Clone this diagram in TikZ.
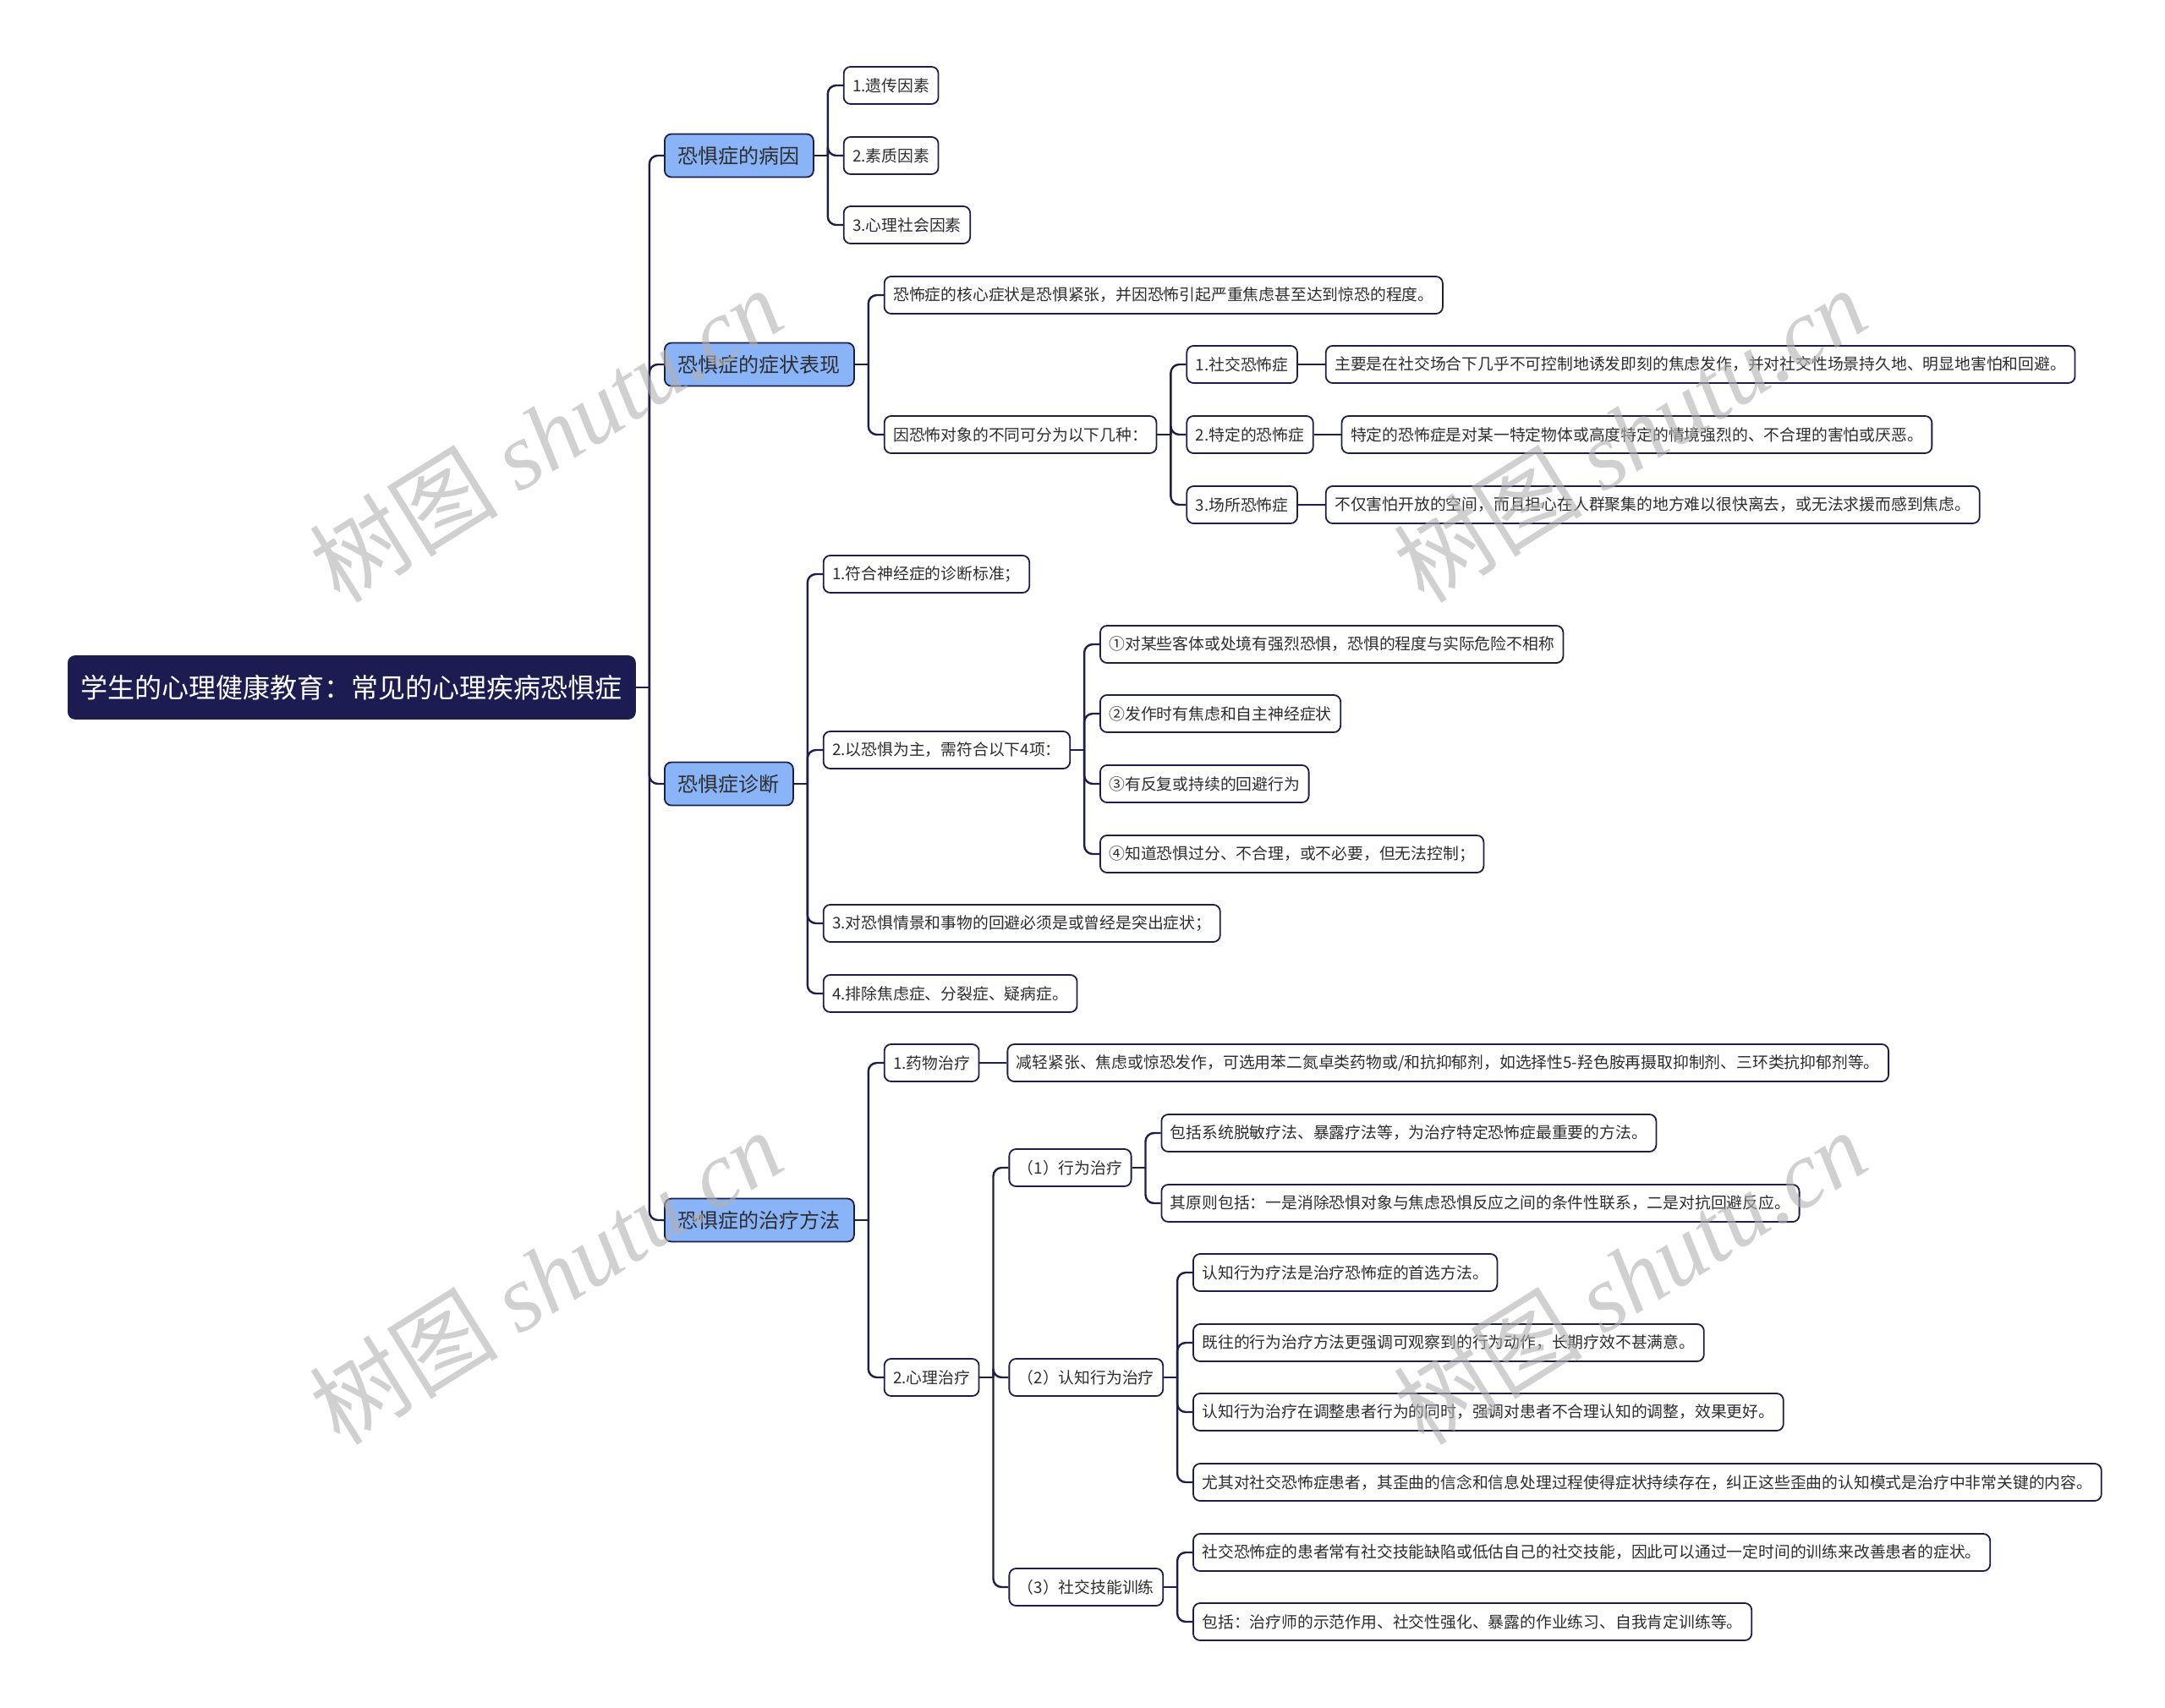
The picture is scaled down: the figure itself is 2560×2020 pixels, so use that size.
\documentclass[tikz,border=0pt]{standalone}
\usepackage{fontspec}
\setmainfont{Noto Sans CJK SC}
\newfontfamily\wmfont{Liberation Serif}
\usetikzlibrary{positioning,calc}
\definecolor{rootnavy}{RGB}{28,27,82}
\definecolor{topicblue}{RGB}{138,180,248}
\definecolor{linknavy}{RGB}{30,30,72}
\definecolor{inkgray}{RGB}{45,45,45}

\tikzset{
  box/.style={draw=linknavy, line width=1.8pt, rounded corners=8pt, anchor=west, inner ysep=0pt, text=inkgray},
  rootbox/.style={box, fill=rootnavy, text=white, font=\fontsize{32}{38}\selectfont, minimum height=74pt, inner xsep=15pt},
  topic/.style={box, fill=topicblue, font=\fontsize{24}{29}\selectfont, minimum height=51pt, inner xsep=16pt},
  leaf/.style={box, fill=white, font=\fontsize{18.8}{23}\selectfont, minimum height=44pt, inner xsep=10.5pt},
  link/.style={draw=linknavy, line width=2.4pt, rounded corners=10pt},
  wmtext/.style={text=gray!60, text opacity=0.6, font=\fontsize{112}{130}\selectfont, rotate=32}
}

\begin{document}
\begin{tikzpicture}[x=1pt, y=-1pt]

\fill[white] (0,0) rectangle (2560,2020);
\useasboundingbox (0,0) rectangle (2560,2020);

% Root and main topics
\node[rootbox] (root) at (80,813) {学生的心理健康教育：常见的心理疾病恐惧症};
\node[topic] (cause) at (785,184) {恐惧症的病因};
\node[topic] (sympt) at (785,431) {恐惧症的症状表现};
\node[topic] (diag) at (785,927) {恐惧症诊断};
\node[topic] (treat) at (785,1443) {恐惧症的治疗方法};

% Causes
\node[leaf, right=34pt of cause, yshift=83pt] (cause1) {1.遗传因素};
\node[leaf, right=34pt of cause] (cause2) {2.素质因素};
\node[leaf, right=34pt of cause, yshift=-82pt] (cause3) {3.心理社会因素};

% Symptoms
\node[leaf, right=34pt of sympt, yshift=82pt] (core) {恐怖症的核心症状是恐惧紧张，并因恐怖引起严重焦虑甚至达到惊恐的程度。};
\node[leaf, right=34pt of sympt, yshift=-83pt] (kinds) {因恐怖对象的不同可分为以下几种：};
\node[leaf, right=34pt of kinds, yshift=83pt] (social) {1.社交恐怖症};
\node[leaf, right=34pt of kinds] (specific) {2.特定的恐怖症};
\node[leaf, right=34pt of kinds, yshift=-83pt] (agora) {3.场所恐怖症};
\node[leaf, right=32pt of social] (socialtxt) {主要是在社交场合下几乎不可控制地诱发即刻的焦虑发作，并对社交性场景持久地、明显地害怕和回避。};
\node[leaf, right=32pt of specific] (specifictxt) {特定的恐怖症是对某一特定物体或高度特定的情境强烈的、不合理的害怕或厌恶。};
\node[leaf, right=32pt of agora] (agoratxt) {不仅害怕开放的空间，而且担心在人群聚集的地方难以很快离去，或无法求援而感到焦虑。};

% Diagnosis
\node[leaf, right=34pt of diag, yshift=248pt] (crit1) {1.符合神经症的诊断标准；};
\node[leaf, right=34pt of diag, yshift=40pt] (crit2) {2.以恐惧为主，需符合以下4项：};
\node[leaf, right=34pt of diag, yshift=-165pt] (crit3) {3.对恐惧情景和事物的回避必须是或曾经是突出症状；};
\node[leaf, right=34pt of diag, yshift=-248pt] (crit4) {4.排除焦虑症、分裂症、疑病症。};
\node[leaf, right=34pt of crit2, yshift=125pt] (item1) {①对某些客体或处境有强烈恐惧，恐惧的程度与实际危险不相称};
\node[leaf, right=34pt of crit2, yshift=43pt] (item2) {②发作时有焦虑和自主神经症状};
\node[leaf, right=34pt of crit2, yshift=-40pt] (item3) {③有反复或持续的回避行为};
\node[leaf, right=34pt of crit2, yshift=-123pt] (item4) {④知道恐惧过分、不合理，或不必要，但无法控制；};

% Treatment
\node[leaf, right=34pt of treat, yshift=186pt] (drug) {1.药物治疗};
\node[leaf, right=32pt of drug] (drugtxt) {减轻紧张、焦虑或惊恐发作，可选用苯二氮卓类药物或/和抗抑郁剂，如选择性5-羟色胺再摄取抑制剂、三环类抗抑郁剂等。};
\node[leaf, right=34pt of treat, yshift=-186pt] (psych) {2.心理治疗};
\node[leaf, right=34pt of psych, yshift=248pt] (beh) {（1）行为治疗};
\node[leaf, right=34pt of psych] (cbt) {（2）认知行为治疗};
\node[leaf, right=34pt of psych, yshift=-248pt] (skill) {（3）社交技能训练};
\node[leaf, right=34pt of beh, yshift=41pt] (beh1) {包括系统脱敏疗法、暴露疗法等，为治疗特定恐怖症最重要的方法。};
\node[leaf, right=34pt of beh, yshift=-42pt] (beh2) {其原则包括：一是消除恐惧对象与焦虑恐惧反应之间的条件性联系，二是对抗回避反应。};
\node[leaf, right=34pt of cbt, yshift=124pt] (cbt1) {认知行为疗法是治疗恐怖症的首选方法。};
\node[leaf, right=34pt of cbt, yshift=41pt] (cbt2) {既往的行为治疗方法更强调可观察到的行为动作，长期疗效不甚满意。};
\node[leaf, right=34pt of cbt, yshift=-41pt] (cbt3) {认知行为治疗在调整患者行为的同时，强调对患者不合理认知的调整，效果更好。};
\node[leaf, right=34pt of cbt, yshift=-124pt] (cbt4) {尤其对社交恐怖症患者，其歪曲的信念和信息处理过程使得症状持续存在，纠正这些歪曲的认知模式是治疗中非常关键的内容。};
\node[leaf, right=34pt of skill, yshift=41pt] (skill1) {社交恐怖症的患者常有社交技能缺陷或低估自己的社交技能，因此可以通过一定时间的训练来改善患者的症状。};
\node[leaf, right=34pt of skill, yshift=-41pt] (skill2) {包括：治疗师的示范作用、社交性强化、暴露的作业练习、自我肯定训练等。};

% Branch connectors
\foreach \p/\kids in {root/{cause,sympt,diag,treat}, cause/{cause1,cause2,cause3},
    sympt/{core,kinds}, kinds/{social,specific,agora}, diag/{crit1,crit2,crit3,crit4},
    crit2/{item1,item2,item3,item4}, treat/{drug,psych}, psych/{beh,cbt,skill},
    beh/{beh1,beh2}, cbt/{cbt1,cbt2,cbt3,cbt4}, skill/{skill1,skill2}} {
  \draw[link] (\p.east) -- ++(16,0) coordinate (\p-br);
  \foreach \k in \kids
    \draw[link] (\p-br) |- (\k.west);
}
\foreach \a/\b in {social/socialtxt, specific/specifictxt, agora/agoratxt, drug/drugtxt}
  \draw[link] (\a.east) -- (\b.west);

% Watermarks
\foreach \wx/\wy in {645/514, 1927/514, 645/1510, 1927/1510}
  \node[wmtext] (wm-\wx-\wy) at (\wx,\wy) {树图 {\wmfont\itshape shutu.cn}};

\end{tikzpicture}
\end{document}
